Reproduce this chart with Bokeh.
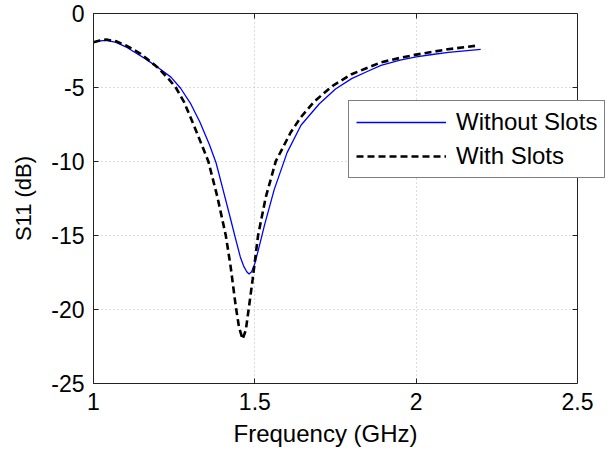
import math
from bokeh.plotting import figure
from bokeh.models import (Range1d, LinearAxis, FixedTicker, Legend, LegendItem,
                          BoxAnnotation, Span, Title)
from bokeh.embed import file_html
from bokeh.resources import INLINE

# ---- data ----
freq_without = [1.00, 1.02, 1.04, 1.07, 1.10, 1.13, 1.16, 1.20, 1.24, 1.27, 1.30, 1.33,
                1.36, 1.38, 1.405, 1.425, 1.44, 1.455, 1.465, 1.475, 1.482, 1.49, 1.50,
                1.51, 1.53, 1.56, 1.60, 1.643, 1.70, 1.75, 1.80, 1.85, 1.891, 1.95, 2.00,
                2.05, 2.10, 2.15, 2.20]
s11_without = [-1.92, -1.85, -1.82, -1.95, -2.25, -2.65, -3.05, -3.65, -4.3, -5.05, -6.05, -7.35,
               -8.9, -10.1, -12.2, -13.9, -15.2, -16.45, -17.05, -17.45, -17.6, -17.45, -16.9,
               -16.05, -14.3, -11.9, -9.4, -7.55, -6.1, -5.1, -4.4, -3.9, -3.5, -3.15, -2.93,
               -2.77, -2.62, -2.52, -2.43]

freq_with = [1.00, 1.02, 1.04, 1.07, 1.10, 1.146, 1.198, 1.23, 1.255, 1.28, 1.311, 1.335,
             1.356, 1.384, 1.41, 1.425, 1.441, 1.451, 1.462, 1.472, 1.482, 1.493, 1.51,
             1.534, 1.565, 1.612, 1.643, 1.684, 1.74, 1.80, 1.891, 1.95, 2.00, 2.098, 2.192]
s11_with = [-1.95, -1.82, -1.76, -1.88, -2.15, -2.72, -3.63, -4.35, -5.0, -5.95, -7.55, -8.85,
            -10.0, -12.4, -15.0, -17.1, -19.8, -21.2, -22.0, -21.4, -19.8, -18.0, -15.0,
            -12.4, -9.98, -8.0, -7.0, -5.95, -4.9, -4.1, -3.3, -3.0, -2.78, -2.42, -2.16]

x_ticks = [1, 1.5, 2, 2.5]
x_tick_labels = ["1", "1.5", "2", "2.5"]
y_ticks = [-25, -20, -15, -10, -5, 0]
y_tick_labels = ["-25", "-20", "-15", "-10", "-5", "0"]
x_limits = (1, 2.5)
y_limits = (-25, 0)

series_names = ["Without Slots", "With Slots"]
x_label = "Frequency (GHz)"
y_label = "S11 (dB)"

FONT = "Liberation Sans"
EDGE = "#222222"

# layout (pixels)
W, H = 616, 463
LEFT, TOP, BOTTOM = 93, 13, 80
AXES_RIGHT_PX = 577            # where the visible axes box ends
frame_w = W - LEFT             # frame runs to the page edge so the legend can overhang
box_w = AXES_RIGHT_PX - LEFT
x_frame_end = x_limits[0] + (x_limits[1] - x_limits[0]) * frame_w / box_w

p = figure(width=W, height=H, output_backend="svg", toolbar_location=None,
           x_range=Range1d(x_limits[0], x_frame_end), y_range=Range1d(*y_limits),
           min_border_left=LEFT, min_border_right=0, min_border_top=TOP,
           min_border_bottom=BOTTOM, y_axis_label=y_label)

p.background_fill_color = "white"
p.border_fill_color = "white"
p.outline_line_color = None

xt = FixedTicker(ticks=x_ticks)
yt = FixedTicker(ticks=y_ticks)

for ax in p.xaxis:
    ax.ticker = xt
    ax.bounds = x_limits
    ax.major_label_overrides = {t: l for t, l in zip(x_ticks, x_tick_labels)}
for ax in p.yaxis:
    ax.ticker = yt
    ax.major_label_overrides = {t: l for t, l in zip(y_ticks, y_tick_labels)}

for ax in list(p.xaxis) + list(p.yaxis):
    ax.major_tick_in = 5
    ax.major_tick_out = 0
    ax.minor_tick_line_color = None
    ax.major_tick_line_color = EDGE
    ax.axis_line_color = EDGE
    ax.major_label_text_font = FONT
    ax.major_label_text_font_size = "23px"
    ax.major_label_text_color = "black"
    ax.axis_label_text_font = FONT
    ax.axis_label_text_font_style = "normal"
    ax.axis_label_text_color = "black"
    ax.major_label_standoff = 9

p.yaxis.axis_label_text_font_size = "22px"
p.yaxis.axis_label_standoff = 12

# x-axis title, centred under the visible axes box (frame is wider than the box)
p.add_layout(Title(text=x_label, align="left", offset=140, text_font=FONT,
                   text_font_size="24px", text_font_style="normal", text_color="black",
                   standoff=10), "below")

# top axis: ticks only
top_ax = LinearAxis(ticker=FixedTicker(ticks=x_ticks), bounds=x_limits,
                    major_label_text_font_size="1px", major_label_text_color=None,
                    major_tick_in=5, major_tick_out=0, minor_tick_line_color=None,
                    major_label_standoff=0, axis_line_color=EDGE,
                    major_tick_line_color=EDGE)
p.add_layout(top_ax, "above")

p.grid.grid_line_color = "#b8b8b8"
p.grid.grid_line_dash = "1 3"
p.grid.grid_line_width = 1
p.xgrid.ticker = xt
p.ygrid.ticker = yt

r1 = p.line(freq_without, s11_without, line_color="#0000ff", line_width=1.3)
r2 = p.line(freq_with, s11_with, line_color="black", line_width=2.6, line_dash="7 4")

# right-hand ticks (pointing inward) at the right edge of the axes box
p.ray(x=[x_limits[1]] * len(y_ticks), y=y_ticks, length=5, length_units="screen",
      angle=math.pi, line_color=EDGE, line_width=1)

# blank out the area right of the axes box (grid overhang)
p.add_layout(BoxAnnotation(left=x_limits[1], fill_color="white", fill_alpha=1,
                           line_color=None))
# right border of the axes box
p.add_layout(Span(location=x_limits[1], dimension="height", line_color=EDGE, line_width=1))

legend = Legend(items=[LegendItem(label=series_names[0], renderers=[r1]),
                       LegendItem(label=series_names[1], renderers=[r2])],
                location=(255, 205))
legend.label_text_font = FONT
legend.label_text_font_size = "24px"
legend.label_text_color = "black"
legend.glyph_width = 90
legend.glyph_height = 22
legend.label_height = 22
legend.label_standoff = 10
legend.spacing = 6
legend.padding = 7
legend.margin = 0
legend.border_line_color = "black"
legend.border_line_width = 1
legend.background_fill_color = "white"
legend.background_fill_alpha = 1
p.add_layout(legend, "center")

open("out.html", "w").write(file_html(p, INLINE))
